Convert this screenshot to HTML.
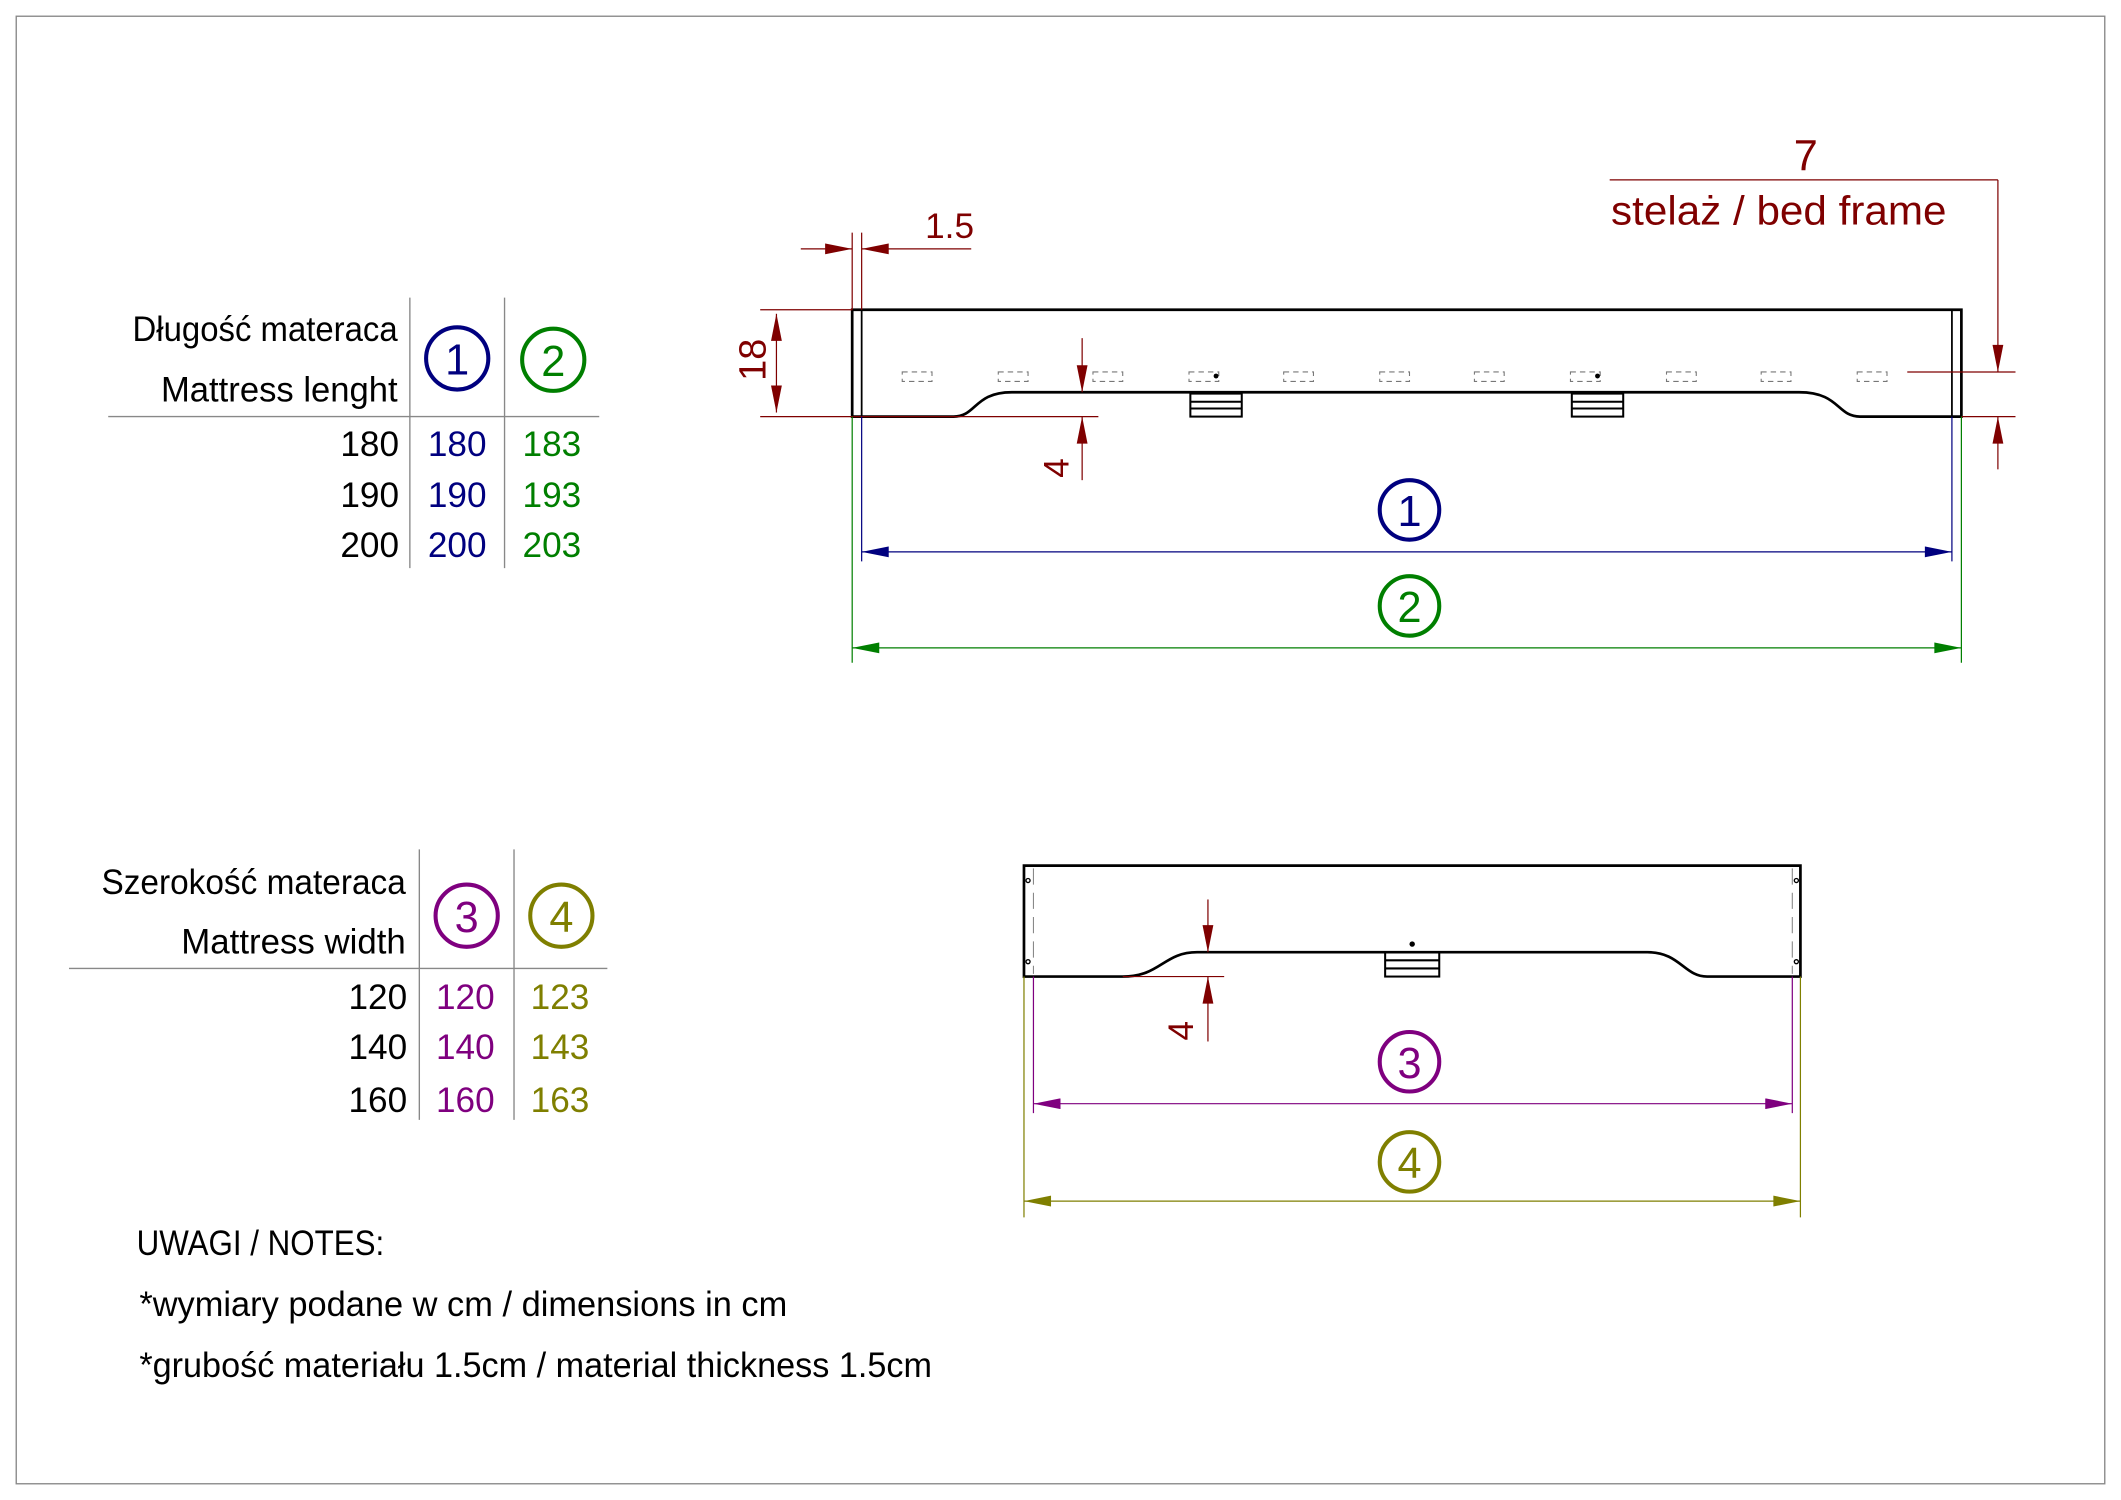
<!DOCTYPE html>
<html><head><meta charset="utf-8"><style>
html,body{margin:0;padding:0;background:#fff;}
svg{display:block;}
text{font-family:"Liberation Sans",sans-serif;}
</style></head><body>
<svg width="2121" height="1500" viewBox="0 0 1568 1109" preserveAspectRatio="none" xmlns="http://www.w3.org/2000/svg">
<defs>
<marker id="ar" viewBox="0 0 10 4" refX="10" refY="2" markerWidth="26" markerHeight="8" markerUnits="userSpaceOnUse" orient="auto-start-reverse"><path d="M0,0 L10,2 L0,4 z" fill="context-stroke"/></marker>
<marker id="r" viewBox="0 0 10 4" refX="10" refY="2" markerWidth="26" markerHeight="8" markerUnits="userSpaceOnUse" orient="auto-start-reverse"><path d="M0,0 L10,2 L0,4 z" fill="#7f0000"/></marker>
<marker id="nv" viewBox="0 0 10 4" refX="10" refY="2" markerWidth="26" markerHeight="8" markerUnits="userSpaceOnUse" orient="auto-start-reverse"><path d="M0,0 L10,2 L0,4 z" fill="#00007f"/></marker>
<marker id="gr" viewBox="0 0 10 4" refX="10" refY="2" markerWidth="26" markerHeight="8" markerUnits="userSpaceOnUse" orient="auto-start-reverse"><path d="M0,0 L10,2 L0,4 z" fill="#007f00"/></marker>
<marker id="pu" viewBox="0 0 10 4" refX="10" refY="2" markerWidth="26" markerHeight="8" markerUnits="userSpaceOnUse" orient="auto-start-reverse"><path d="M0,0 L10,2 L0,4 z" fill="#7f007f"/></marker>
<marker id="ol" viewBox="0 0 10 4" refX="10" refY="2" markerWidth="26" markerHeight="8" markerUnits="userSpaceOnUse" orient="auto-start-reverse"><path d="M0,0 L10,2 L0,4 z" fill="#7f7f00"/></marker>
</defs>
<rect x="12" y="12" width="1544" height="1085" fill="none" stroke="#888" stroke-width="1"/>

<!-- TOP VIEW -->
<g fill="none" stroke="#000" stroke-width="2">
<path d="M630,229 H1450 V308 H1375 C1358,308 1360,290 1330,290 H748 C720,290 722,308 705,308 H630 Z"/>
<line x1="637" y1="229" x2="637" y2="308" stroke-width="1.3"/>
<line x1="1443" y1="229" x2="1443" y2="308" stroke-width="1.3"/>
<rect x="880" y="291" width="38" height="17" stroke-width="1.5"/>
<line x1="880" y1="297" x2="918" y2="297" stroke-width="1.5"/><line x1="880" y1="302" x2="918" y2="302" stroke-width="1.5"/>
<rect x="1162" y="291" width="38" height="17" stroke-width="1.5"/>
<line x1="1162" y1="297" x2="1200" y2="297" stroke-width="1.5"/><line x1="1162" y1="302" x2="1200" y2="302" stroke-width="1.5"/>
</g>
<g fill="none" stroke="#777" stroke-width="0.8" stroke-dasharray="4,3">
<rect x="667" y="275" width="22" height="7"/><rect x="738" y="275" width="22" height="7"/><rect x="808" y="275" width="22" height="7"/><rect x="879" y="275" width="22" height="7"/><rect x="949" y="275" width="22" height="7"/><rect x="1020" y="275" width="22" height="7"/><rect x="1090" y="275" width="22" height="7"/><rect x="1161" y="275" width="22" height="7"/><rect x="1232" y="275" width="22" height="7"/><rect x="1302" y="275" width="22" height="7"/><rect x="1373" y="275" width="22" height="7"/>
</g>
<circle cx="899" cy="278" r="1.8" fill="#000"/><circle cx="1181" cy="278" r="1.8" fill="#000"/>

<!-- red dims top -->
<g stroke="#7f0000" stroke-width="0.9" fill="none">
<line x1="562" y1="229" x2="630" y2="229"/><line x1="562" y1="308" x2="812" y2="308"/>
<line x1="574" y1="232" x2="574" y2="305" marker-start="url(#r)" marker-end="url(#r)"/>
<line x1="630" y1="172" x2="630" y2="229"/><line x1="637" y1="172" x2="637" y2="229"/>
<line x1="592" y1="184" x2="630" y2="184" marker-end="url(#r)"/>
<line x1="718" y1="184" x2="637" y2="184" marker-end="url(#r)"/>
<line x1="800" y1="250" x2="800" y2="290" marker-end="url(#r)"/>
<line x1="800" y1="355" x2="800" y2="308" marker-end="url(#r)"/>
<line x1="1190" y1="133" x2="1477" y2="133"/>
<line x1="1477" y1="133" x2="1477" y2="275" marker-end="url(#r)"/>
<line x1="1477" y1="347" x2="1477" y2="308" marker-end="url(#r)"/>
<line x1="1410" y1="275" x2="1490" y2="275"/><line x1="1450" y1="308" x2="1490" y2="308"/>
</g>
<g fill="#7f0000" font-size="28">
<text x="566" y="266" transform="rotate(-90 566 266)" text-anchor="middle">18</text>
<text x="702" y="176" text-anchor="middle" font-size="26">1.5</text>
<text x="790" y="346" transform="rotate(-90 790 346)" text-anchor="middle" font-size="26">4</text>
<text x="1335" y="126" text-anchor="middle" font-size="32">7</text>
<text x="1315" y="166" text-anchor="middle" font-size="30" textLength="248" lengthAdjust="spacingAndGlyphs">stelaż / bed frame</text>
</g>

<!-- dim 1 & 2 -->
<g fill="none" stroke-width="0.9">
<line x1="637" y1="308" x2="637" y2="415" stroke="#00007f"/><line x1="1443" y1="308" x2="1443" y2="415" stroke="#00007f"/>
<line x1="637" y1="408" x2="1443" y2="408" stroke="#00007f" marker-start="url(#nv)" marker-end="url(#nv)"/>
<line x1="630" y1="308" x2="630" y2="490" stroke="#007f00"/><line x1="1450" y1="308" x2="1450" y2="490" stroke="#007f00"/>
<line x1="630" y1="479" x2="1450" y2="479" stroke="#007f00" marker-start="url(#gr)" marker-end="url(#gr)"/>
<circle cx="1042" cy="377" r="22" stroke="#00007f" stroke-width="3"/>
<circle cx="1042" cy="448" r="22" stroke="#007f00" stroke-width="3"/>
</g>
<text x="1042" y="389" fill="#00007f" font-size="32" text-anchor="middle">1</text>
<text x="1042" y="460" fill="#007f00" font-size="32" text-anchor="middle">2</text>

<!-- TABLE 1 -->
<g stroke="#888" stroke-width="1"><line x1="80" y1="308" x2="443" y2="308"/><line x1="303" y1="220" x2="303" y2="420"/><line x1="373" y1="220" x2="373" y2="420"/></g>
<g font-size="26" fill="#000" text-anchor="end">
<text x="294" y="252" textLength="196" lengthAdjust="spacingAndGlyphs">Długość materaca</text>
<text x="294" y="297" textLength="175" lengthAdjust="spacingAndGlyphs">Mattress lenght</text>
<text x="295" y="337">180</text><text x="295" y="375">190</text><text x="295" y="412">200</text>
</g>
<circle cx="338" cy="265" r="23" fill="none" stroke="#00007f" stroke-width="3"/>
<circle cx="409" cy="266" r="23" fill="none" stroke="#007f00" stroke-width="3"/>
<text x="338" y="277" font-size="32" fill="#00007f" text-anchor="middle">1</text>
<text x="409" y="278" font-size="32" fill="#007f00" text-anchor="middle">2</text>
<g font-size="26" text-anchor="middle">
<text x="338" y="337" fill="#00007f">180</text><text x="338" y="375" fill="#00007f">190</text><text x="338" y="412" fill="#00007f">200</text>
<text x="408" y="337" fill="#007f00">183</text><text x="408" y="375" fill="#007f00">193</text><text x="408" y="412" fill="#007f00">203</text>
</g>

<!-- TABLE 2 -->
<g stroke="#888" stroke-width="1"><line x1="51" y1="716" x2="449" y2="716"/><line x1="310" y1="628" x2="310" y2="828"/><line x1="380" y1="628" x2="380" y2="828"/></g>
<g font-size="26" fill="#000" text-anchor="end">
<text x="300" y="661" textLength="225" lengthAdjust="spacingAndGlyphs">Szerokość materaca</text>
<text x="300" y="705" textLength="166" lengthAdjust="spacingAndGlyphs">Mattress width</text>
<text x="301" y="746">120</text><text x="301" y="783">140</text><text x="301" y="822">160</text>
</g>
<circle cx="345" cy="677" r="23" fill="none" stroke="#7f007f" stroke-width="3"/>
<circle cx="415" cy="677" r="23" fill="none" stroke="#7f7f00" stroke-width="3"/>
<text x="345" y="689" font-size="32" fill="#7f007f" text-anchor="middle">3</text>
<text x="415" y="689" font-size="32" fill="#7f7f00" text-anchor="middle">4</text>
<g font-size="26" text-anchor="middle">
<text x="344" y="746" fill="#7f007f">120</text><text x="344" y="783" fill="#7f007f">140</text><text x="344" y="822" fill="#7f007f">160</text>
<text x="414" y="746" fill="#7f7f00">123</text><text x="414" y="783" fill="#7f7f00">143</text><text x="414" y="822" fill="#7f7f00">163</text>
</g>

<!-- BOTTOM VIEW -->
<g fill="none" stroke="#000" stroke-width="2">
<path d="M757,640 H1331 V722 H1262 C1245,722 1242,704 1218,704 H885 C860,704 858,722 830,722 H757 Z"/>
<rect x="1024" y="704" width="40" height="18" stroke-width="1.5"/>
<line x1="1024" y1="710" x2="1064" y2="710" stroke-width="1.5"/><line x1="1024" y1="716" x2="1064" y2="716" stroke-width="1.5"/>
</g>
<g fill="none" stroke="#888" stroke-width="0.8" stroke-dasharray="12,6"><line x1="764" y1="642" x2="764" y2="720"/><line x1="1325" y1="642" x2="1325" y2="720"/></g>
<g fill="none" stroke="#000" stroke-width="1"><circle cx="760" cy="651" r="1.5"/><circle cx="760" cy="711" r="1.5"/><circle cx="1328" cy="651" r="1.5"/><circle cx="1328" cy="711" r="1.5"/></g>
<circle cx="1044" cy="698" r="2" fill="#000"/>
<g stroke="#7f0000" stroke-width="0.9" fill="none">
<line x1="830" y1="722" x2="905" y2="722"/>
<line x1="893" y1="665" x2="893" y2="704" marker-end="url(#r)"/>
<line x1="893" y1="770" x2="893" y2="722" marker-end="url(#r)"/>
</g>
<text x="882" y="762" transform="rotate(-90 882 762)" fill="#7f0000" font-size="26" text-anchor="middle">4</text>
<g fill="none" stroke-width="0.9">
<line x1="764" y1="722" x2="764" y2="823" stroke="#7f007f"/><line x1="1325" y1="722" x2="1325" y2="823" stroke="#7f007f"/>
<line x1="764" y1="816" x2="1325" y2="816" stroke="#7f007f" marker-start="url(#pu)" marker-end="url(#pu)"/>
<line x1="757" y1="722" x2="757" y2="900" stroke="#7f7f00"/><line x1="1331" y1="722" x2="1331" y2="900" stroke="#7f7f00"/>
<line x1="757" y1="888" x2="1331" y2="888" stroke="#7f7f00" marker-start="url(#ol)" marker-end="url(#ol)"/>
<circle cx="1042" cy="785" r="22" stroke="#7f007f" stroke-width="3"/>
<circle cx="1042" cy="859" r="22" stroke="#7f7f00" stroke-width="3"/>
</g>
<text x="1042" y="797" fill="#7f007f" font-size="32" text-anchor="middle">3</text>
<text x="1042" y="871" fill="#7f7f00" font-size="32" text-anchor="middle">4</text>

<!-- NOTES -->
<g fill="#000" font-size="26">
<text x="101" y="928" textLength="183" lengthAdjust="spacingAndGlyphs">UWAGI / NOTES:</text>
<text x="103" y="973" textLength="479" lengthAdjust="spacingAndGlyphs">*wymiary podane w cm / dimensions in cm</text>
<text x="103" y="1018" textLength="586" lengthAdjust="spacingAndGlyphs">*grubość materiału 1.5cm / material thickness 1.5cm</text>
</g>
</svg>
</body></html>
